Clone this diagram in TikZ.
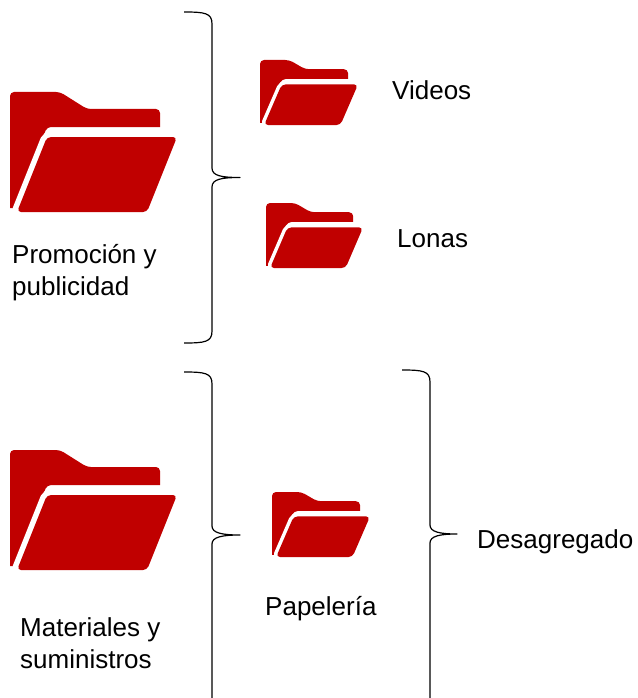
\documentclass[tikz,border=0pt]{standalone}
\usepackage{fontspec}
\setmainfont{Liberation Sans}
\definecolor{folderred}{RGB}{192,0,0}
\tikzset{
  lbl/.style={inner sep=0pt, anchor=base west, font=\fontsize{26}{32}\selectfont, text=black},
  bracepath/.style={draw=black, line width=1.2pt, line join=round},
}
% #1 = white gap width
\newcommand{\myfolder}[1]{%
  \fill[folderred] (0,116) [rounded corners=4pt] -- (0,0) -- (50,0) -- (77,17) -- (150,17) [sharp corners] -- (150,35) [rounded corners=4pt] -- (37,35) [sharp corners] -- (4,116) -- cycle;
  \path[fill=white, draw=white, line width=#1, rounded corners=4pt] (37,45) -- (167,45) -- (137,120) -- (7,120) -- cycle;
  \fill[folderred, rounded corners=4pt] (37,45) -- (167,45) -- (137,120) -- (7,120) -- cycle;
}
\begin{document}
\begin{tikzpicture}[x=1pt, y=-1pt]
\useasboundingbox (0,0) rectangle (637,698);
% folders
\begin{scope}[shift={(10,92)}] \myfolder{11pt} \end{scope}
\begin{scope}[shift={(10,450)}] \myfolder{11pt} \end{scope}
\begin{scope}[shift={(260,60)}, xscale=0.587, yscale=0.542] \myfolder{7pt} \end{scope}
\begin{scope}[shift={(266,203)}, xscale=0.581, yscale=0.542] \myfolder{7pt} \end{scope}
\begin{scope}[shift={(272,492)}, xscale=0.587, yscale=0.542] \myfolder{7pt} \end{scope}
% labels
\node[lbl] (promo1) at (12,263) {Promoción y};
\node[lbl] (promo2) at (12,295) {publicidad};
\node[lbl] (mat1) at (20,636) {Materiales y};
\node[lbl] (mat2) at (20,668) {suministros};
\node[lbl] (videos) at (392,100) {Videos};
\node[lbl] (lonas) at (397,247) {Lonas};
\node[lbl] (papel) at (265,615) {Papelería};
\node[lbl] (desag) at (477,548) {Desagregado};
% braces
\draw[bracepath] (184,12) .. controls (205,12) and (212,13) .. (212,24) -- (212,168)
  .. controls (212,176) and (222,177.5) .. (240,177.5)
  .. controls (222,177.5) and (212,179) .. (212,187) -- (212,331)
  .. controls (212,342) and (205,343) .. (184,343);
\draw[bracepath] (184,372) .. controls (205,372) and (212,373) .. (212,384) -- (212,526)
  .. controls (212,533) and (222,535) .. (240,535)
  .. controls (222,535) and (212,537) .. (212,544) -- (212,700);
\draw[bracepath] (402,370) .. controls (423,370) and (430,371) .. (430,382) -- (430,525)
  .. controls (430,532) and (440,534) .. (457,534)
  .. controls (440,534) and (430,536) .. (430,543) -- (430,700);
\end{tikzpicture}
\end{document}
